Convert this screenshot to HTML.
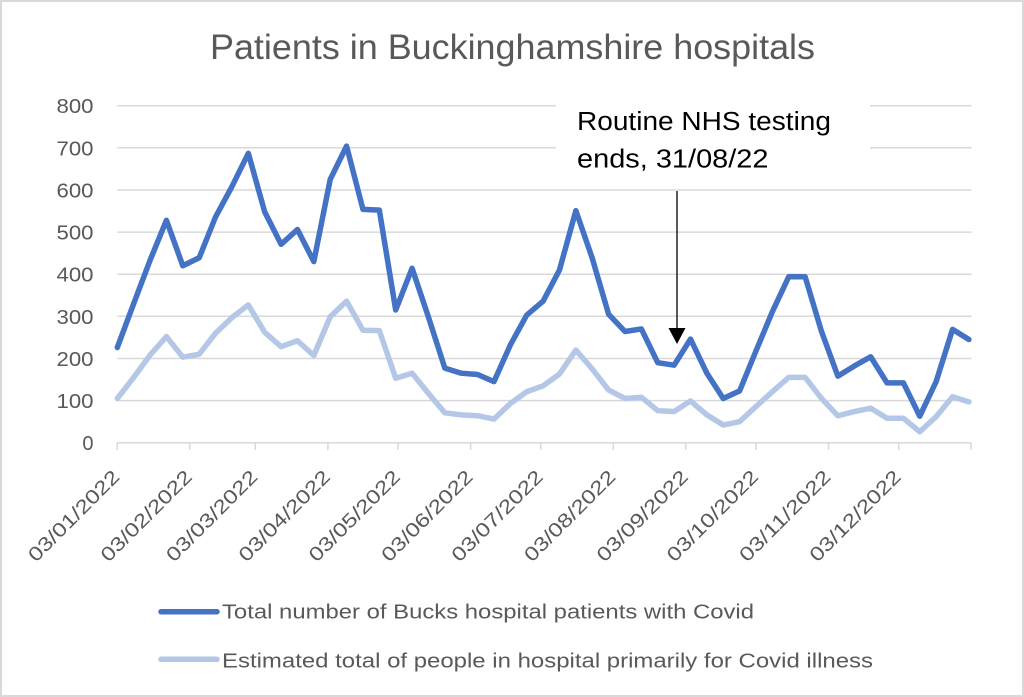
<!DOCTYPE html>
<html>
<head>
<meta charset="utf-8">
<style>
html,body{margin:0;padding:0;background:#fff;}
svg{display:block;}
text{font-family:"Liberation Sans",sans-serif;}
</style>
</head>
<body>
<svg width="1024" height="697" viewBox="0 0 1024 697" xmlns="http://www.w3.org/2000/svg">
<rect x="1" y="1" width="1022" height="695" fill="#fff" stroke="#d9d9d9" stroke-width="2"/>

<!-- Title -->
<text x="210" y="59" font-size="35" fill="#595959" textLength="605" lengthAdjust="spacingAndGlyphs">Patients in Buckinghamshire hospitals</text>

<!-- Gridlines -->
<g stroke="#d9d9d9" stroke-width="1.5">
<line x1="117.3" y1="105.7" x2="971.5" y2="105.7"/>
<line x1="117.3" y1="147.8" x2="971.5" y2="147.8"/>
<line x1="117.3" y1="190" x2="971.5" y2="190"/>
<line x1="117.3" y1="232.1" x2="971.5" y2="232.1"/>
<line x1="117.3" y1="274.2" x2="971.5" y2="274.2"/>
<line x1="117.3" y1="316.3" x2="971.5" y2="316.3"/>
<line x1="117.3" y1="358.5" x2="971.5" y2="358.5"/>
<line x1="117.3" y1="400.6" x2="971.5" y2="400.6"/>
<line x1="117.3" y1="442.7" x2="971.5" y2="442.7"/>
</g>
<!-- Axis ticks -->
<g stroke="#d9d9d9" stroke-width="1.5">
<line x1="117.3" y1="442.7" x2="117.3" y2="450"/>
<line x1="189.8" y1="442.7" x2="189.8" y2="450"/>
<line x1="255.3" y1="442.7" x2="255.3" y2="450"/>
<line x1="327.9" y1="442.7" x2="327.9" y2="450"/>
<line x1="398" y1="442.7" x2="398" y2="450"/>
<line x1="470.6" y1="442.7" x2="470.6" y2="450"/>
<line x1="540.7" y1="442.7" x2="540.7" y2="450"/>
<line x1="613.3" y1="442.7" x2="613.3" y2="450"/>
<line x1="685.8" y1="442.7" x2="685.8" y2="450"/>
<line x1="756" y1="442.7" x2="756" y2="450"/>
<line x1="828.5" y1="442.7" x2="828.5" y2="450"/>
<line x1="898.7" y1="442.7" x2="898.7" y2="450"/>
<line x1="971.2" y1="442.7" x2="971.2" y2="450"/>
</g>

<!-- Y labels -->
<g font-size="20" fill="#595959" text-anchor="end">
<text x="93.5" y="113.2" textLength="37" lengthAdjust="spacingAndGlyphs">800</text>
<text x="93.5" y="155.3" textLength="37" lengthAdjust="spacingAndGlyphs">700</text>
<text x="93.5" y="197.5" textLength="37" lengthAdjust="spacingAndGlyphs">600</text>
<text x="93.5" y="239.6" textLength="37" lengthAdjust="spacingAndGlyphs">500</text>
<text x="93.5" y="281.7" textLength="37" lengthAdjust="spacingAndGlyphs">400</text>
<text x="93.5" y="323.8" textLength="37" lengthAdjust="spacingAndGlyphs">300</text>
<text x="93.5" y="366" textLength="37" lengthAdjust="spacingAndGlyphs">200</text>
<text x="93.5" y="408.1" textLength="37" lengthAdjust="spacingAndGlyphs">100</text>
<text x="93.5" y="450.2">0</text>
</g>

<!-- X labels -->
<g font-size="19.5" fill="#595959" text-anchor="end">
<text transform="translate(120.8,478) rotate(-45)" textLength="120" lengthAdjust="spacingAndGlyphs">03/01/2022</text>
<text transform="translate(193.3,478) rotate(-45)" textLength="120" lengthAdjust="spacingAndGlyphs">03/02/2022</text>
<text transform="translate(258.8,478) rotate(-45)" textLength="120" lengthAdjust="spacingAndGlyphs">03/03/2022</text>
<text transform="translate(331.4,478) rotate(-45)" textLength="120" lengthAdjust="spacingAndGlyphs">03/04/2022</text>
<text transform="translate(401.5,478) rotate(-45)" textLength="120" lengthAdjust="spacingAndGlyphs">03/05/2022</text>
<text transform="translate(474.1,478) rotate(-45)" textLength="120" lengthAdjust="spacingAndGlyphs">03/06/2022</text>
<text transform="translate(544.2,478) rotate(-45)" textLength="120" lengthAdjust="spacingAndGlyphs">03/07/2022</text>
<text transform="translate(616.8,478) rotate(-45)" textLength="120" lengthAdjust="spacingAndGlyphs">03/08/2022</text>
<text transform="translate(689.3,478) rotate(-45)" textLength="120" lengthAdjust="spacingAndGlyphs">03/09/2022</text>
<text transform="translate(759.5,478) rotate(-45)" textLength="120" lengthAdjust="spacingAndGlyphs">03/10/2022</text>
<text transform="translate(832,478) rotate(-45)" textLength="120" lengthAdjust="spacingAndGlyphs">03/11/2022</text>
<text transform="translate(902.2,478) rotate(-45)" textLength="120" lengthAdjust="spacingAndGlyphs">03/12/2022</text>
</g>

<!-- Annotation box (hides gridlines) -->
<rect x="556" y="96" width="314" height="88" fill="#fff"/>

<!-- Series -->
<g transform="translate(117.3,442.7) scale(16.377,-0.42125)">
<polyline fill="none" stroke="#B4C7E7" stroke-width="5.5" stroke-linejoin="round" stroke-linecap="round" vector-effect="non-scaling-stroke"
points="0,105 1,155 2,208 3,252 4,203 5,210 6,260 7,297 8,327 9,262 10,228 11,242 12,207 13,299 14,336 15,267 16,266 17,153 18,165 19,117 20,71 21,66 22,64 23,56 24,93 25,121 26,135 27,163 28,220 29,175 30,125 31,105 32,108 33,76 34,74 35,99 36,66 37,42 38,50 39,86 40,121 41,155 42,155 43,105 44,64 45,74 46,82 47,58 48,58 49,26 50,62 51,109 52,97"/>
<polyline fill="none" stroke="#4472C4" stroke-width="5.5" stroke-linejoin="round" stroke-linecap="round" vector-effect="non-scaling-stroke"
points="0,226 1,330 2,433 3,528 4,420 5,439 6,536 7,608 8,687 9,548 10,471 11,506 12,430 13,625 14,704 15,554 16,552 17,315 18,414 19,298 20,177 21,165 22,162 23,145 24,232 25,303 26,336 27,410 28,551 29,438 30,305 31,264 32,270 33,190 34,184 35,246 36,165 37,105 38,123 39,218 40,311 41,394 42,394 43,264 44,158 45,182 46,204 47,142 48,142 49,63 50,145 51,269 52,245"/>
</g>

<!-- Annotation -->
<g font-size="25.5" fill="#000">
<text x="577" y="130" textLength="254" lengthAdjust="spacingAndGlyphs">Routine NHS testing</text>
<text x="577" y="167.3" textLength="191.5" lengthAdjust="spacingAndGlyphs">ends, 31/08/22</text>
</g>
<line x1="677" y1="191" x2="677" y2="330" stroke="#000" stroke-width="1.3"/>
<polygon points="668.5,328 685.5,328 677,344" fill="#000"/>

<!-- Legend -->
<line x1="161" y1="611.7" x2="217" y2="611.7" stroke="#4472C4" stroke-width="5.5" stroke-linecap="round"/>
<text x="222" y="618.3" font-size="20" fill="#595959" textLength="532" lengthAdjust="spacingAndGlyphs">Total number of Bucks hospital patients with Covid</text>
<line x1="161" y1="659.3" x2="217" y2="659.3" stroke="#B4C7E7" stroke-width="5.5" stroke-linecap="round"/>
<text x="222" y="667.3" font-size="20" fill="#595959" textLength="651" lengthAdjust="spacingAndGlyphs">Estimated total of people in hospital primarily for Covid illness</text>
</svg>
</body>
</html>
